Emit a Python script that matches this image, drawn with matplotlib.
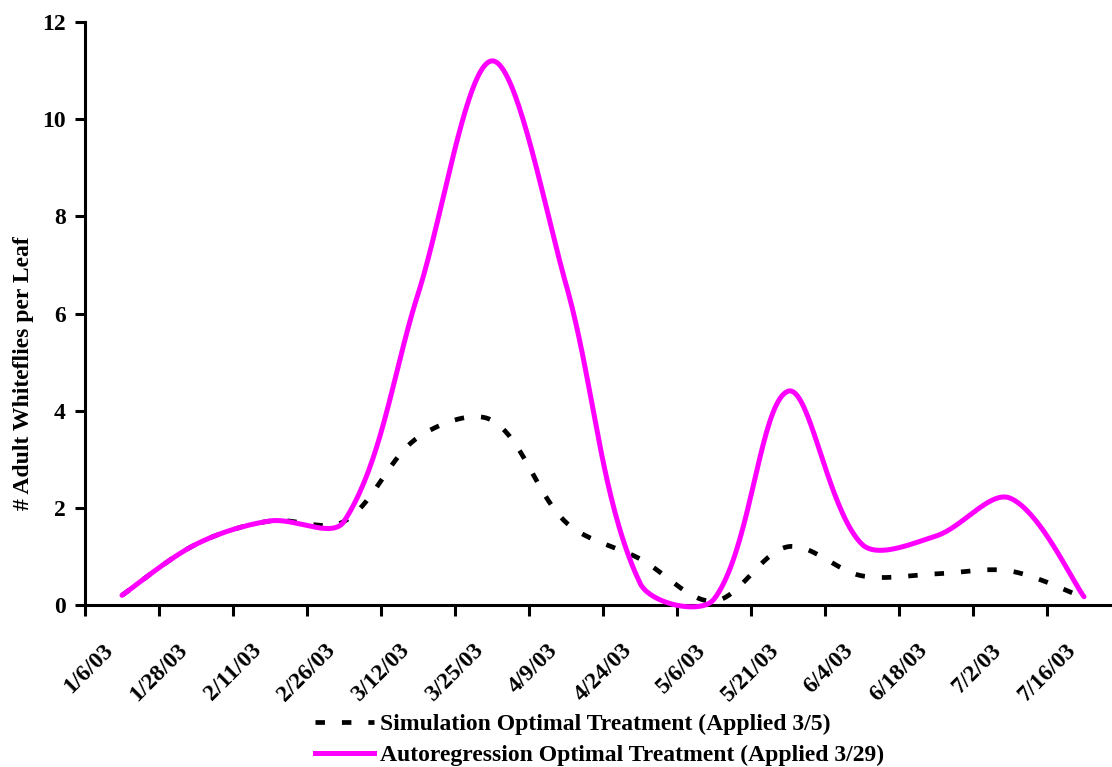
import numpy as np
import matplotlib
matplotlib.use("Agg")
from matplotlib import pyplot as plt
from matplotlib.lines import Line2D

plt.rcParams['font.family'] = ['Liberation Serif', 'DejaVu Serif']
plt.rcParams['font.weight'] = 'bold'

dates = ['1/6/03', '1/28/03', '2/11/03', '2/26/03', '3/12/03', '3/25/03', '4/9/03',
         '4/24/03', '5/6/03', '5/21/03', '6/4/03', '6/18/03', '7/2/03', '7/16/03']
simulation = [0.2, 1.25, 1.73, 1.72, 3.45, 3.8, 1.7, 0.95, 0.08, 1.2, 0.6, 0.64, 0.7, 0.15]
autoregression = [0.2, 1.25, 1.73, 1.72, 6.4, 11.2, 6.6, 0.45, 0.12, 4.4, 1.25, 1.42, 2.2, 0.17]

W, H = 1112, 767
left, right, top, bottom = 85, 1112, 22, 605
step = 74.0                      # px per category
unit = (bottom - top) / 12.0     # px per y unit


def smooth(y, steps=40):
    # excel-like smoothed line: bezier segments, control points scaled by chord length
    y = np.asarray(y, dtype=float)
    n = len(y)
    P = np.column_stack([np.arange(n) * step, y * unit])
    d = np.hypot(*(P[1:] - P[:-1]).T)
    T = np.zeros_like(P)
    T[1:-1] = P[2:] - P[:-2]
    T[0] = P[1] - P[0]
    T[-1] = P[-1] - P[-2]
    t = np.linspace(0, 1, steps)[:, None]
    out = []
    for i in range(n - 1):
        r1 = 0.5 if i == 0 else d[i] / (d[i - 1] + d[i])
        r2 = 0.5 if i == n - 2 else d[i] / (d[i] + d[i + 1])
        c1 = P[i] + T[i] * r1 / 3
        c2 = P[i + 1] - T[i + 1] * r2 / 3
        seg = ((1 - t)**3 * P[i] + 3 * (1 - t)**2 * t * c1
               + 3 * (1 - t) * t**2 * c2 + t**3 * P[i + 1])
        out.append(seg if i == 0 else seg[1:])
    out = np.vstack(out)
    return out[:, 0] / step, out[:, 1] / unit


fig = plt.figure(figsize=(W / 100, H / 100), dpi=100)
ax = fig.add_axes([left / W, 1 - bottom / H, (right - left) / W, (bottom - top) / H])

x = np.arange(len(dates))
dash = (0, (2.0, 3.6))
sx, sy = smooth(simulation)
ax.plot(sx, sy, color='black', lw=3.4, linestyle=dash, zorder=3, clip_on=False)
mx, my = smooth(autoregression)
ax.plot(mx, my, color='#FF00FF', lw=3.6, solid_capstyle='round', zorder=4, clip_on=False)

ax.set_xlim(-0.5, -0.5 + (right - left) / step)
ax.set_ylim(0, 12)
ax.set_yticks([0, 2, 4, 6, 8, 10, 12])
# labels sit a little left of the category centre, as in the original
ax.set_xticks(x - 19 / step)
ax.set_xticks(x - 0.5, minor=True)
ax.set_xticklabels(dates, rotation=45, ha='right', va='top', rotation_mode='anchor',
                   fontsize=17, fontweight='bold')
ax.tick_params(axis='x', which='major', length=0, pad=25)
ax.tick_params(axis='x', which='minor', length=8, width=2.2, direction='out')
ax.tick_params(axis='y', length=7, width=2.2, direction='out', labelsize=17, pad=7)
for lab in ax.get_yticklabels():
    lab.set_fontweight('bold')

for s in ['top', 'right']:
    ax.spines[s].set_visible(False)
for s in ['left', 'bottom']:
    ax.spines[s].set_linewidth(2.2)

ax.set_ylabel('# Adult Whiteflies per Leaf', fontsize=17, fontweight='bold')
ax.yaxis.set_label_coords(-0.05, (bottom - 373) / (bottom - top))

handles = [Line2D([], [], color='black', lw=3.4, linestyle=dash),
           Line2D([], [], color='#FF00FF', lw=3.6)]
names = ['Simulation Optimal Treatment (Applied 3/5)',
         'Autoregression Optimal Treatment (Applied 3/29)']
fig.legend(handles, names, loc='upper left', bbox_to_anchor=(303 / W, 1 - 702 / H),
           frameon=False, handlelength=2.5, handletextpad=0.25,
           labelspacing=0.38, borderpad=0, prop={'weight': 'bold', 'size': 17})

fig.savefig('out.png', dpi=100)
